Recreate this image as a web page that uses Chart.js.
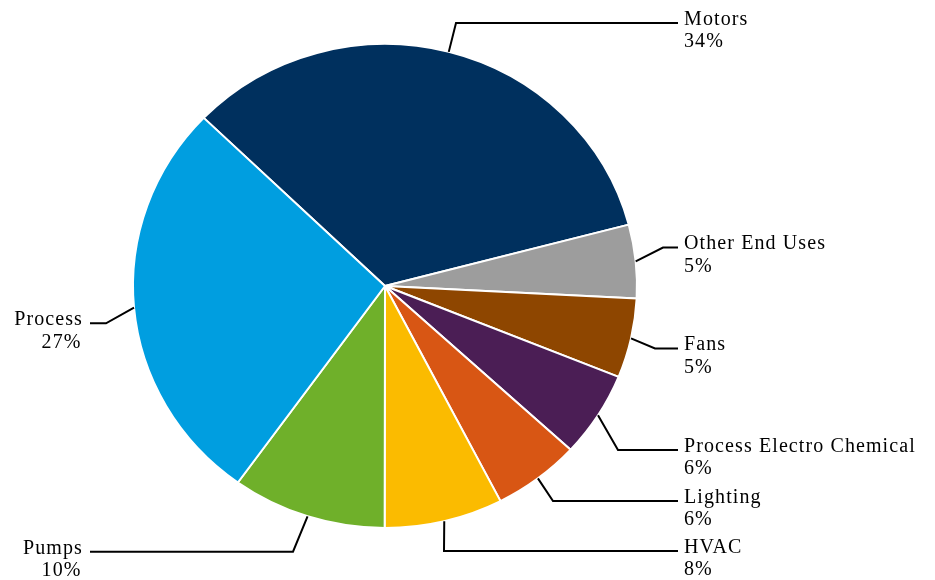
<!DOCTYPE html>
<html>
<head>
<meta charset="utf-8">
<script src="https://cdn.jsdelivr.net/npm/chart.js@4"></script>
<style>
  html, body { margin: 0; padding: 0; background: #ffffff; }
  #wrap { width: 935px; height: 580px; }
</style>
</head>
<body>
<div id="wrap"><canvas id="c" width="935" height="580"></canvas></div>
<script>
// ---- data ----
const categories = ["Motors", "Other End Uses", "Fans", "Process Electro Chemical", "Lighting", "HVAC", "Pumps", "Process"];
const shares = [33.7, 4.9, 5.3, 5.7, 5.6, 7.6, 9.9, 27.3];
const sliceColors = ["#00305e", "#9d9d9d", "#8e4600", "#4b1e55", "#d85614", "#fbbb00", "#6fb02a", "#009ee0"];

// label callout layout (annotation placement, not data)
const calloutLayout = [
  { side: "right", lineY: 23,    elbowX: 456 },
  { side: "right", lineY: 247.5, elbowX: 663 },
  { side: "right", lineY: 348.5, elbowX: 655 },
  { side: "right", lineY: 450,   elbowX: 618 },
  { side: "right", lineY: 501,   elbowX: 553 },
  { side: "right", lineY: 551,   elbowX: 444 },
  { side: "left",  lineY: 551.7, elbowX: 293 },
  { side: "left",  lineY: 323.3, elbowX: 106 }
];

const Y_SCALE = 242 / 252;
const total = shares.reduce((a, b) => a + b, 0);

const squashPlugin = {
  id: "squash",
  beforeDatasetsDraw(chart) {
    const arc = chart.getDatasetMeta(0).data[0];
    const ctx = chart.ctx;
    ctx.save();
    ctx.translate(arc.x, arc.y);
    ctx.scale(1, Y_SCALE);
    ctx.translate(-arc.x, -arc.y);
  },
  afterDatasetsDraw(chart) {
    chart.ctx.restore();
  }
};

const calloutPlugin = {
  id: "callouts",
  afterDraw(chart) {
    const ctx = chart.ctx;
    const arcs = chart.getDatasetMeta(0).data;
    ctx.save();
    ctx.font = "20px 'Liberation Serif', 'Times New Roman', serif";
    if ('letterSpacing' in ctx) ctx.letterSpacing = "1.1px";
    ctx.fillStyle = "#000000";
    ctx.strokeStyle = "#000000";
    ctx.lineWidth = 2;
    ctx.textBaseline = "alphabetic";
    arcs.forEach((a, i) => {
      const L = calloutLayout[i];
      const mid = (a.startAngle + a.endAngle) / 2;
      const sx = a.x + Math.cos(mid) * a.outerRadius;
      const sy = a.y + Math.sin(mid) * a.outerRadius * Y_SCALE;
      const endX = L.side === "right" ? 678 : 90;
      ctx.beginPath();
      ctx.moveTo(sx, sy);
      ctx.lineTo(L.elbowX, L.lineY);
      ctx.lineTo(endX, L.lineY);
      ctx.stroke();
      const pct = Math.round(shares[i] / total * 100) + "%";
      const base = L.lineY + 1.8;
      if (L.side === "right") {
        ctx.textAlign = "left";
        ctx.fillText(categories[i], 684, base);
        ctx.fillText(pct, 684, base + 22.6);
      } else {
        ctx.textAlign = "right";
        ctx.fillText(categories[i], 83, base);
        ctx.fillText(pct, 81.5, base + 22.6);
      }
    });
    ctx.restore();
  }
};

new Chart(document.getElementById("c"), {
  type: "pie",
  data: {
    labels: categories,
    datasets: [{
      data: shares,
      backgroundColor: sliceColors,
      borderColor: "#ffffff",
      borderWidth: 2
    }]
  },
  options: {
    responsive: false,
    animation: false,
    events: [],
    rotation: -46,
    layout: { padding: { left: 132, right: 297, top: 33, bottom: 41 } },
    plugins: {
      legend: { display: false },
      tooltip: { enabled: false },
      title: { display: false }
    }
  },
  plugins: [squashPlugin, calloutPlugin]
});
</script>
</body>
</html>
